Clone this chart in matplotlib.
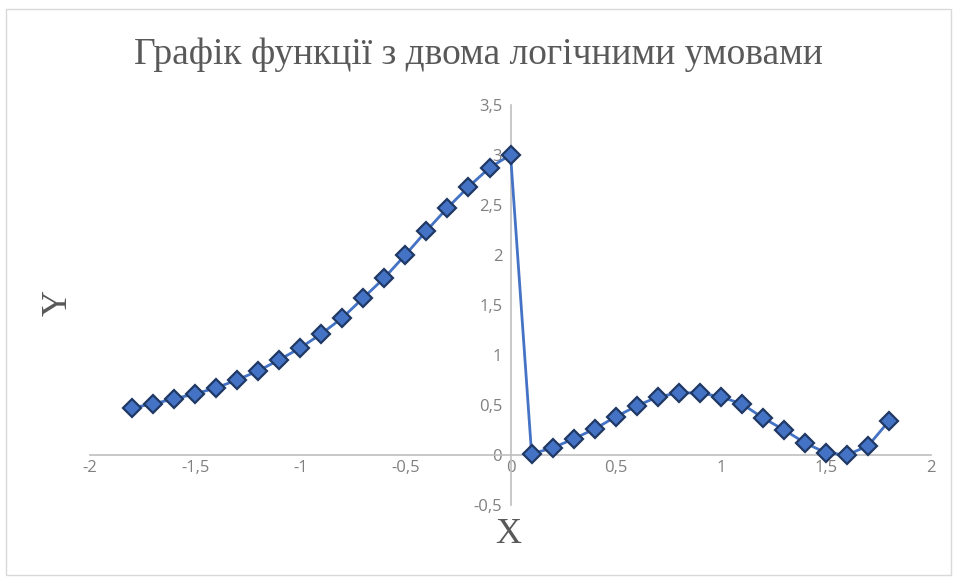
import matplotlib.pyplot as plt
from matplotlib.patches import Rectangle

# --- Data ---
x_vals = [-1.8, -1.7, -1.6, -1.5, -1.4, -1.3, -1.2, -1.1, -1.0, -0.9,
          -0.8, -0.7, -0.6, -0.5, -0.4, -0.3, -0.2, -0.1, 0.0,
          0.1, 0.2, 0.3, 0.4, 0.5, 0.6, 0.7, 0.8, 0.9, 1.0,
          1.1, 1.2, 1.3, 1.4, 1.5, 1.6, 1.7, 1.8]
y_vals = [0.47, 0.51, 0.56, 0.61, 0.67, 0.75, 0.84, 0.95, 1.07, 1.21,
          1.37, 1.57, 1.77, 2.00, 2.24, 2.47, 2.68, 2.87, 3.00,
          0.01, 0.07, 0.16, 0.26, 0.38, 0.49, 0.58, 0.62, 0.62, 0.58,
          0.51, 0.37, 0.25, 0.12, 0.02, 0.00, 0.09, 0.34]
x_ticks = [-2, -1.5, -1, -0.5, 0, 0.5, 1, 1.5, 2]
y_ticks = [-0.5, 0, 0.5, 1, 1.5, 2, 2.5, 3, 3.5]

title = "Графік функції з двома логічними умовами"

fig = plt.figure(figsize=(9.57, 5.79), dpi=100)
ax = fig.add_axes([0.094, 0.128, 0.879, 0.691])

ax.plot(x_vals, y_vals, color="#4472C4", lw=2, marker="D", markersize=9,
        markerfacecolor="#4472C4", markeredgecolor="#1F3864",
        markeredgewidth=1.6, zorder=3)

ax.set_xlim(-2, 2)
ax.set_ylim(-0.5, 3.5)

# axes cross at zero, Excel style
ax.spines["left"].set_position(("data", 0))
ax.spines["bottom"].set_position(("data", 0))
ax.spines["top"].set_visible(False)
ax.spines["right"].set_visible(False)
for s in ("left", "bottom"):
    ax.spines[s].set_color("#BFBFBF")
    ax.spines[s].set_linewidth(1.2)

def fmt(v):
    s = f"{v:g}"
    return s.replace(".", ",")

ax.set_xticks(x_ticks)
ax.set_xticklabels([fmt(v) for v in x_ticks])
ax.set_yticks(y_ticks)
ax.set_yticklabels([fmt(v) for v in y_ticks])
ax.tick_params(length=0, labelsize=12, colors="#808080")
ax.tick_params(axis="x", pad=4)
ax.tick_params(axis="y", pad=6)
for lab in ax.get_xticklabels() + ax.get_yticklabels():
    lab.set_family("Open Sans")

fig.text(0.5, 0.905, title, ha="center", va="center", fontsize=27,
         color="#595959", family="Liberation Serif")
fig.text(0.531, 0.076, "X", ha="center", va="center", fontsize=26,
         color="#595959", family="Liberation Serif")
fig.text(0.061, 0.477, "Y", ha="center", va="center", fontsize=26,
         color="#595959", family="Liberation Serif", rotation=90)

# light frame around the chart area
fig.patches.append(Rectangle((0.006, 0.007), 0.988, 0.978, transform=fig.transFigure,
                             fill=False, edgecolor="#D9D9D9", lw=1))

fig.savefig("out.png", dpi=100)
